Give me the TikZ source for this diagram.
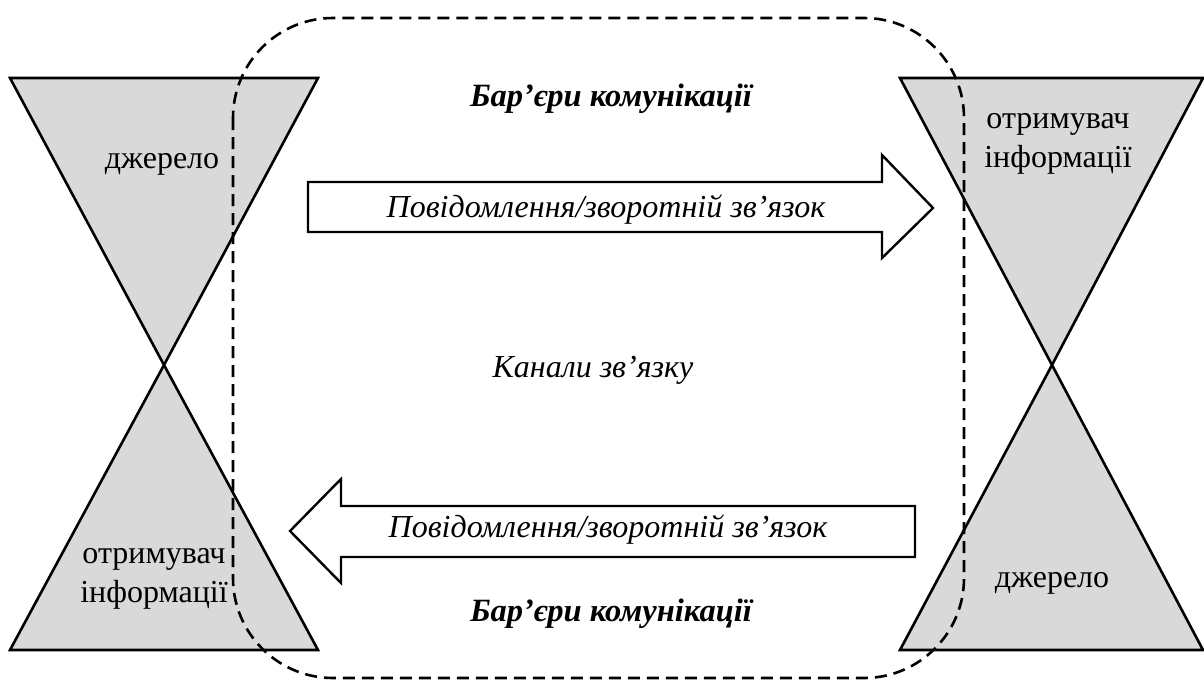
\documentclass[tikz,border=0pt]{standalone}
\usepackage{fontspec}
\setmainfont{Liberation Serif}
\begin{document}
\begin{tikzpicture}[x=1pt,y=-1pt,
  glass/.style={fill=glassgray,draw=black,line width=2.6pt,line join=miter},
  msgarrow/.style={fill=white,draw=black,line width=2.4pt,line join=miter},
  barrier/.style={draw=black,line width=2.6pt,dash pattern=on 12pt off 7pt},
  lbl/.style={font=\fontsize{32}{39}\selectfont,align=center,inner sep=0pt,anchor=base},
  itl/.style={font=\fontsize{32}{38}\selectfont\itshape,inner sep=0pt,anchor=base},
  bitl/.style={font=\fontsize{32.5}{38}\selectfont\bfseries\itshape,inner sep=0pt,anchor=base}]
\definecolor{glassgray}{HTML}{D9D9D9}
\useasboundingbox (0,0) rectangle (1204,680);

% left hourglass: source above, receiver below
\draw[glass] (10,78) -- (318,78) -- (164,365) -- cycle;
\draw[glass] (164,365) -- (318,650) -- (10,650) -- cycle;
% right hourglass: receiver above, source below
\draw[glass] (900,78) -- (1203,78) -- (1052,365) -- cycle;
\draw[glass] (1052,365) -- (1203,650) -- (900,650) -- cycle;

% message / feedback arrows
\draw[msgarrow] (308,182) -- (882,182) -- (882,155) -- (933,208)
  -- (882,258) -- (882,232) -- (308,232) -- cycle;
\draw[msgarrow] (915,506) -- (341,506) -- (341,479) -- (290,531)
  -- (341,583) -- (341,557) -- (915,557) -- cycle;

% labels in the hourglasses (base = baseline of the last line)
\node[lbl] (srcL) at (162,168) {джерело};
\node[lbl] (rcvR) at (1058,167) {отримувач\\інформації};
\node[lbl] (rcvL) at (154,602) {отримувач\\інформації};
\node[lbl] (srcR) at (1052,587) {джерело};

% texts in the channel
\node[bitl] (barT) at (611,106) {Бар’єри комунікації};
\node[bitl] (barB) at (611,621) {Бар’єри комунікації};
\node[itl] (chan) at (593,377) {Канали зв’язку};
\node[itl] (msgU) at (606,217) {Повідомлення/зворотній зв’язок};
\node[itl] (msgD) at (608,537) {Повідомлення/зворотній зв’язок};

% communication channel boundary
\draw[barrier] (233,18) [rounded corners=100pt] rectangle (964,678);
\end{tikzpicture}
\end{document}
